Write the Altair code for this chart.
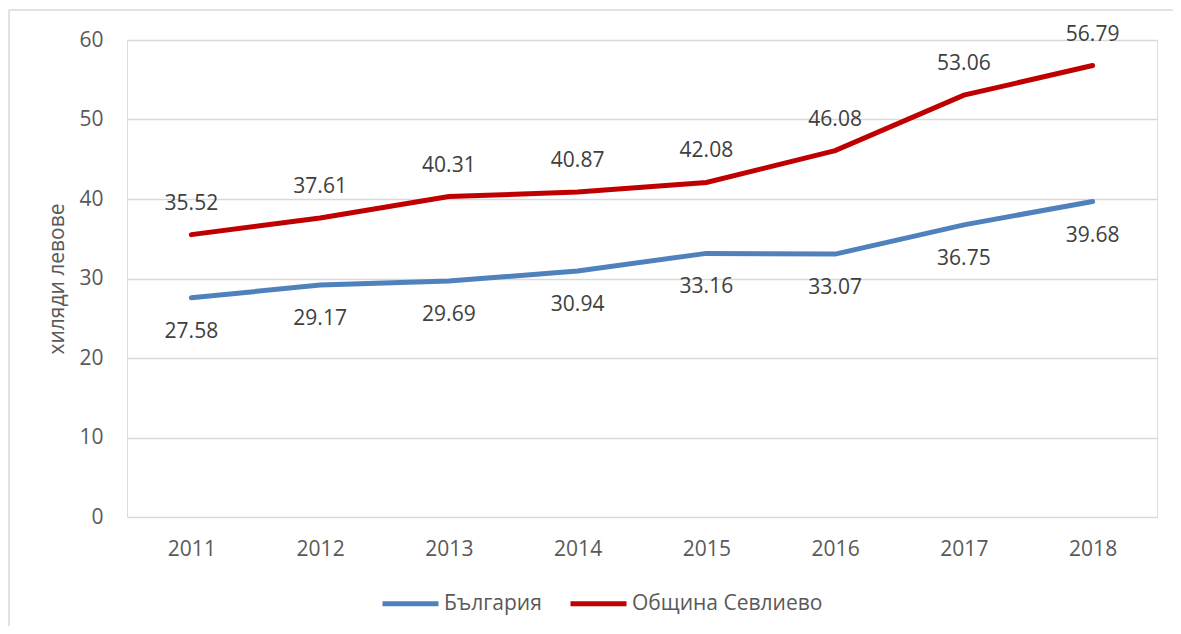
import altair as alt
import pandas as pd

years = ["2011", "2012", "2013", "2014", "2015", "2016", "2017", "2018"]
bulgaria = [27.58, 29.17, 29.69, 30.94, 33.16, 33.07, 36.75, 39.68]
sevlievo = [35.52, 37.61, 40.31, 40.87, 42.08, 46.08, 53.06, 56.79]
series_names = ["България", "Община Севлиево"]
series_colors = ["#4F81BD", "#C00000"]

rows = []
for y, v in zip(years, bulgaria):
    rows.append({"year": y, "value": v, "series": series_names[0]})
for y, v in zip(years, sevlievo):
    rows.append({"year": y, "value": v, "series": series_names[1]})
df = pd.DataFrame(rows)

FONT = "Open Sans"
FS = 21
W, H = 1030, 477

x_enc = alt.X("year:N", sort=years, title=None,
              scale=alt.Scale(paddingInner=0, paddingOuter=0.5),
              axis=alt.Axis(labelAngle=0, labelFontSize=FS, labelColor="#595959",
                            labelFont=FONT, ticks=False, domain=False, labelPadding=21, grid=False))
y_enc = alt.Y("value:Q", scale=alt.Scale(domain=[0, 60], nice=False),
              axis=alt.Axis(values=[0, 10, 20, 30, 40, 50, 60], title="хиляди левове",
                            titleFont=FONT, titleFontSize=FS, titleFontWeight="normal",
                            titleColor="#595959", titleX=-70, titleY=H / 2,
                            titleAngle=270, titleAlign="center", titleBaseline="middle",
                            labelFontSize=FS, labelColor="#595959", labelFont=FONT,
                            ticks=False, domain=False, labelPadding=24,
                            grid=True, gridColor="#D9D9D9", gridWidth=1.3))
color_enc = alt.Color("series:N",
                      scale=alt.Scale(domain=series_names, range=series_colors),
                      legend=alt.Legend(title=None, orient="none", direction="horizontal",
                                        columns=2, legendX=253, legendY=533,
                                        symbolType="stroke", symbolSize=3136,
                                        symbolStrokeWidth=5, labelFontSize=FS,
                                        labelFont=FONT, labelColor="#595959",
                                        labelLimit=400,
                                        labelOffset=3, columnPadding=18, padding=0))

lines = alt.Chart(df).mark_line(strokeWidth=5, strokeCap="round").encode(
    x=x_enc, y=y_enc, color=color_enc)

labels_b = alt.Chart(df[df.series == series_names[0]]).mark_text(
    fontSize=FS, font=FONT, color="#404040", dy=34).encode(
    x=alt.X("year:N", sort=years), y="value:Q", text=alt.Text("value:Q", format=".2f"))
labels_s = alt.Chart(df[df.series == series_names[1]]).mark_text(
    fontSize=FS, font=FONT, color="#404040", dy=-31).encode(
    x=alt.X("year:N", sort=years), y="value:Q", text=alt.Text("value:Q", format=".2f"))

frame = pd.DataFrame({"a": [0]})
border_top = alt.Chart(frame).mark_rule(stroke="#D9D9D9", strokeWidth=1.5, clip=False).encode(
    x=alt.value(-118), x2=alt.value(1046), y=alt.value(-30))
border_left = alt.Chart(frame).mark_rule(stroke="#D9D9D9", strokeWidth=1.5, clip=False).encode(
    x=alt.value(-118), y=alt.value(-30), y2=alt.value(586))

chart = alt.layer(border_top, border_left, lines, labels_b, labels_s).properties(
    width=W, height=H,
    autosize=alt.AutoSizeParams(type="none"),
    padding={"left": 119, "top": 32, "right": 16, "bottom": 109},
).configure_view(stroke=None).configure(background="white")

chart.save("out.html", embed_options={"renderer": "svg", "actions": False})
